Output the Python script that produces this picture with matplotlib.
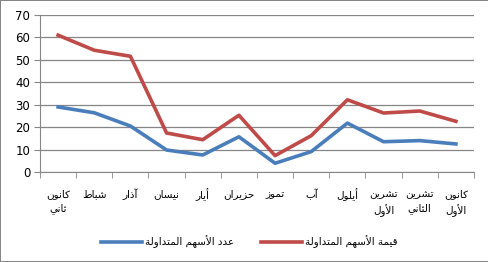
import matplotlib
matplotlib.use("Agg")
import matplotlib.pyplot as plt
import numpy as np

# months (logical Arabic order), two-line labels split with \n
months = ["كانون\nثاني", "شباط", "آذار", "نيسان", "أيار", "حزيران",
          "تموز", "آب", "أيلول", "تشرين\nالأول", "تشرين\nالثاني", "كانون\nالأول"]
shares_count = [29, 26.4, 20.5, 9.8, 7.6, 15.7, 3.9, 9.1, 21.8, 13.5, 14, 12.5]
shares_value = [61, 54.3, 51.6, 17.4, 14.4, 25.3, 7.3, 16.2, 32.2, 26.3, 27.2, 22.6]
count_label = "عدد الأسهم المتداولة"
value_label = "قيمة الأسهم المتداولة"

# minimal arabic shaping: (isolated, final, initial, medial) presentation forms
FORMS = {
    "ا": (0xFE8D, 0xFE8E), "آ": (0xFE81, 0xFE82), "أ": (0xFE83, 0xFE84),
    "ب": (0xFE8F, 0xFE90, 0xFE91, 0xFE92), "ة": (0xFE93, 0xFE94),
    "ت": (0xFE95, 0xFE96, 0xFE97, 0xFE98), "ث": (0xFE99, 0xFE9A, 0xFE9B, 0xFE9C),
    "ح": (0xFEA1, 0xFEA2, 0xFEA3, 0xFEA4), "د": (0xFEA9, 0xFEAA),
    "ذ": (0xFEAB, 0xFEAC), "ر": (0xFEAD, 0xFEAE), "ز": (0xFEAF, 0xFEB0),
    "س": (0xFEB1, 0xFEB2, 0xFEB3, 0xFEB4), "ش": (0xFEB5, 0xFEB6, 0xFEB7, 0xFEB8),
    "ط": (0xFEC1, 0xFEC2, 0xFEC3, 0xFEC4), "ع": (0xFEC9, 0xFECA, 0xFECB, 0xFECC),
    "ق": (0xFED5, 0xFED6, 0xFED7, 0xFED8), "ك": (0xFED9, 0xFEDA, 0xFEDB, 0xFEDC),
    "ل": (0xFEDD, 0xFEDE, 0xFEDF, 0xFEE0), "م": (0xFEE1, 0xFEE2, 0xFEE3, 0xFEE4),
    "ن": (0xFEE5, 0xFEE6, 0xFEE7, 0xFEE8), "ه": (0xFEE9, 0xFEEA, 0xFEEB, 0xFEEC),
    "و": (0xFEED, 0xFEEE), "ي": (0xFEF1, 0xFEF2, 0xFEF3, 0xFEF4),
}
LAM_ALEF = {"ا": (0xFEFB, 0xFEFC), "أ": (0xFEF7, 0xFEF8), "آ": (0xFEF5, 0xFEF6)}


def shape_line(text):
    tokens = []
    i = 0
    while i < len(text):
        c = text[i]
        if c == "ل" and i + 1 < len(text) and text[i + 1] in LAM_ALEF:
            tokens.append(LAM_ALEF[text[i + 1]])
            i += 2
        else:
            tokens.append(FORMS.get(c, c))
            i += 1
    out = []
    for k, t in enumerate(tokens):
        if isinstance(t, str):
            out.append(t)
            continue
        prev = tokens[k - 1] if k > 0 else None
        nxt = tokens[k + 1] if k + 1 < len(tokens) else None
        jp = prev is not None and not isinstance(prev, str) and len(prev) == 4
        jn = len(t) == 4 and nxt is not None and not isinstance(nxt, str)
        if jp and jn:
            f = t[3]
        elif jp:
            f = t[1]
        elif jn:
            f = t[2]
        else:
            f = t[0]
        out.append(chr(f))
    return "".join(reversed(out))


def shape(text):
    return "\n".join(shape_line(s) for s in text.split("\n"))


plt.rcParams["font.family"] = ["DejaVu Sans"]
grey = "#868686"
blue = "#4A7EBB"
red = "#BE4B48"

fig = plt.figure(figsize=(4.89, 2.62), dpi=100)
fig.patch.set_edgecolor(grey)
fig.patch.set_linewidth(1.2)
ax = fig.add_axes([0.0818, 0.3435, 0.8875, 0.5992])

x = np.arange(len(months))
ax.plot(x, shares_count, color=blue, lw=2.6, solid_joinstyle="round",
        label=shape(count_label))
ax.plot(x, shares_value, color=red, lw=2.6, solid_joinstyle="round",
        label=shape(value_label))

ax.set_xlim(-0.5, len(months) - 0.5)
ax.set_ylim(0, 70)
ax.set_yticks(range(0, 71, 10))
ax.yaxis.grid(True, color=grey, lw=0.9)
ax.set_axisbelow(True)
ax.tick_params(axis="y", labelsize=8.5, length=4, color=grey, pad=3)

ax.set_xticks(x)
ax.set_xticklabels([shape(m) for m in months], fontsize=7.5, linespacing=1.5)
ax.set_xticks(np.arange(-0.5, len(months), 1), minor=True)
ax.tick_params(axis="x", which="major", length=0, pad=12)
ax.tick_params(axis="x", which="minor", length=4, color=grey)

for s in ["top", "right"]:
    ax.spines[s].set_visible(False)
for s in ["left", "bottom"]:
    ax.spines[s].set_color(grey)

fig.legend(loc="center", bbox_to_anchor=(0.51, 0.077), ncol=2, frameon=False,
           fontsize=7.5, handlelength=4, columnspacing=2.5, handletextpad=0.3)

fig.savefig("out.png", dpi=100)
